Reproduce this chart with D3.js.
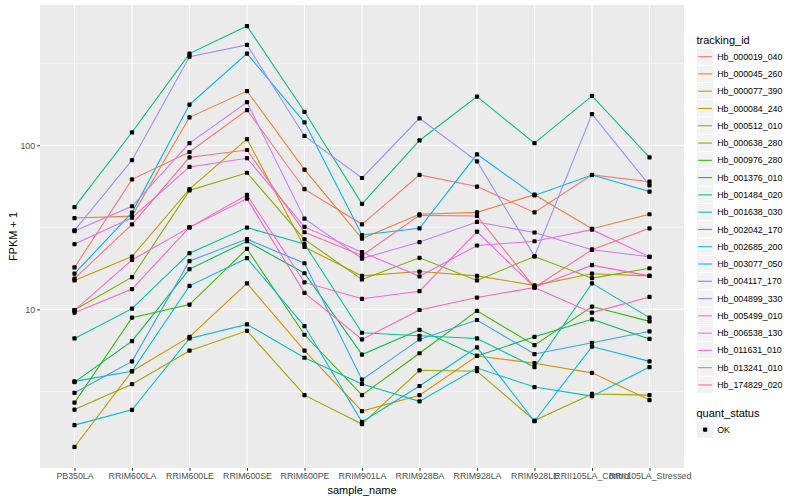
<!DOCTYPE html>
<html>
<head>
<meta charset="utf-8">
<script src="https://cdn.jsdelivr.net/npm/d3@7"></script>
<style>
  html, body { margin: 0; padding: 0; background: #ffffff; }
  svg { display: block; font-family: "Liberation Sans", Arial, Helvetica, sans-serif; }
</style>
</head>
<body>
<svg id="chart" width="800" height="500"></svg>
<script>
// ---- data (FPKM + 1) ----
const samples = ["PB350LA","RRIM600LA","RRIM600LE","RRIM600SE","RRIM600PE","RRIM901LA",
                 "RRIM928BA","RRIM928LA","RRIM928LE","RRII105LA_Control","RRII105LA_Stressed"];

const Hb_000019_040 = [18, 62, 91, 164, 54, 33, 66, 56, 39, 66, 60];
const Hb_000045_260 = [36, 37, 148, 214, 71, 27, 38, 39, 50, 31, 38];
const Hb_000077_390 = [1.45, 4.2, 6.8, 14.4, 5.6, 2.4, 3.0, 5.2, 4.7, 4.1, 2.8];
const Hb_000084_240 = [15, 21, 54, 109, 24, 16, 17, 16, 14, 16.5, 16];
const Hb_000512_010 = [2.45, 3.5, 5.6, 7.4, 3.0, 2.0, 4.25, 4.2, 2.1, 3.05, 3.0];
const Hb_000638_280 = [9.9, 15.7, 53, 68, 26.7, 15.2, 20.6, 15, 21, 15.5, 17.8];
const Hb_000976_280 = [2.7, 8.9, 10.7, 23.4, 7.0, 3.0, 5.4, 9.8, 6.05, 10.4, 8.45];
const Hb_001376_010 = [3.6, 6.4, 17.6, 26, 16.6, 5.3, 7.5, 5.2, 6.8, 8.7, 6.6];
const Hb_001484_020 = [42, 120, 362, 533, 160, 44, 107, 198, 103, 200, 84.5];
const Hb_001638_030 = [6.65, 10.1, 22, 31.5, 25, 7.2, 6.9, 6.65, 4.45, 14.4, 8.9];
const Hb_002042_170 = [1.97, 2.44, 6.65, 8.1, 5.07, 3.51, 2.75, 4.39, 3.36, 2.96, 4.45];
const Hb_002685_200 = [3.64, 4.19, 13.9, 20.5, 7.91, 2.06, 3.41, 5.87, 2.08, 5.93, 4.82];
const Hb_003077_050 = [16.5, 38.9, 177, 362, 138, 28.4, 31.2, 88.1, 49.5, 65.9, 52.2];
const Hb_004117_170 = [3.10, 4.82, 19.7, 26.8, 19.1, 3.73, 6.56, 8.61, 5.34, 6.26, 7.35];
const Hb_004899_330 = [30.3, 81.1, 347, 409, 114, 63.2, 146, 79.8, 21.1, 155, 57.0];
const Hb_005499_010 = [30.0, 42.5, 103, 183, 35.7, 20.4, 25.7, 34.1, 29.4, 23.1, 20.9];
const Hb_006538_130 = [25.0, 36.2, 73.8, 83.4, 31.8, 22.3, 15.9, 24.5, 26.0, 30.6, 20.9];
const Hb_011631_010 = [9.86, 20.0, 31.6, 49.8, 14.6, 11.6, 12.9, 29.8, 13.6, 18.6, 16.0];
const Hb_013241_010 = [9.55, 13.3, 31.6, 47.3, 12.6, 6.56, 9.91, 11.8, 13.6, 9.55, 11.9];
const Hb_174829_020 = [15.4, 33.0, 84.5, 93.6, 29.5, 21.3, 37.4, 37.1, 13.6, 23.1, 31.2];

const trackingIds = ["Hb_000019_040","Hb_000045_260","Hb_000077_390","Hb_000084_240","Hb_000512_010",
  "Hb_000638_280","Hb_000976_280","Hb_001376_010","Hb_001484_020","Hb_001638_030",
  "Hb_002042_170","Hb_002685_200","Hb_003077_050","Hb_004117_170","Hb_004899_330",
  "Hb_005499_010","Hb_006538_130","Hb_011631_010","Hb_013241_010","Hb_174829_020"];
const seriesValues = [Hb_000019_040,Hb_000045_260,Hb_000077_390,Hb_000084_240,Hb_000512_010,
  Hb_000638_280,Hb_000976_280,Hb_001376_010,Hb_001484_020,Hb_001638_030,
  Hb_002042_170,Hb_002685_200,Hb_003077_050,Hb_004117_170,Hb_004899_330,
  Hb_005499_010,Hb_006538_130,Hb_011631_010,Hb_013241_010,Hb_174829_020];
const quantStatus = ["OK"];
const yBreaks = [10, 100];
const yMinor = [Math.pow(10,0.5), Math.pow(10,1.5), Math.pow(10,2.5)];

// ggplot hue palette (20)
const palette = ["#F8766D","#EA8331","#D89000","#C09B00","#A3A500","#7CAE00","#39B600","#00BB4E",
  "#00BF7D","#00C1A3","#00BFC4","#00BAE0","#00B0F6","#35A2FF","#9590FF","#C77CFF","#E76BF3",
  "#FA62DB","#FF62BC","#FF6C91"];

// ---- layout ----
const svg = d3.select("#chart");
const P = {left: 40, right: 684, top: 5, bottom: 468};

const series = trackingIds.map((id, i) => ({
  id, color: palette[i],
  values: samples.map((s, j) => ({sample: s, value: seriesValues[i][j]}))
}));

const allVals = seriesValues.flat();
const lmin = Math.log10(d3.min(allVals)), lmax = Math.log10(d3.max(allVals));
const ex = (lmax - lmin) * 0.05;
const y = d3.scaleLog().domain([Math.pow(10, lmin - ex), Math.pow(10, lmax + ex)]).range([P.bottom, P.top]);
const x = d3.scalePoint().domain(samples).range([P.left, P.right]).padding(0.6);

// panel
svg.append("rect").attr("x", P.left).attr("y", P.top)
  .attr("width", P.right - P.left).attr("height", P.bottom - P.top).attr("fill", "#EBEBEB");

const grid = svg.append("g");
grid.selectAll(".ymin").data(yMinor).enter().append("line")
  .attr("x1", P.left).attr("x2", P.right).attr("y1", d => y(d)).attr("y2", d => y(d))
  .attr("stroke", "#fff").attr("stroke-width", 0.55);
grid.selectAll(".ymaj").data(yBreaks).enter().append("line")
  .attr("x1", P.left).attr("x2", P.right).attr("y1", d => y(d)).attr("y2", d => y(d))
  .attr("stroke", "#fff").attr("stroke-width", 1.1);
grid.selectAll(".xmaj").data(samples).enter().append("line")
  .attr("x1", d => x(d)).attr("x2", d => x(d)).attr("y1", P.top).attr("y2", P.bottom)
  .attr("stroke", "#fff").attr("stroke-width", 1.1);

// lines
const line = d3.line().x(d => x(d.sample)).y(d => y(d.value));
svg.append("g").selectAll("path").data(series).enter().append("path")
  .attr("d", d => line(d.values)).attr("fill", "none")
  .attr("stroke", d => d.color).attr("stroke-width", 1.07);

// points
const pts = series.flatMap(s => s.values);
svg.append("g").selectAll("rect").data(pts).enter().append("rect")
  .attr("x", d => x(d.sample) - 2.1).attr("y", d => y(d.value) - 2.1)
  .attr("width", 4.2).attr("height", 4.2).attr("rx", 0.9).attr("fill", "#000");

// axes
const xAxis = d3.axisBottom(x).tickSize(2.75).tickPadding(2.5);
const gx = svg.append("g").attr("transform", `translate(0,${P.bottom})`).call(xAxis);
gx.select(".domain").remove();
gx.selectAll("line").attr("stroke", "#333333").attr("stroke-width", 1.07);
gx.selectAll("text").attr("fill", "#4D4D4D").style("font-size", "8.8px").attr("dy", "0.71em");

const yAxis = d3.axisLeft(y).tickValues(yBreaks).tickFormat(d3.format("d")).tickSize(2.75).tickPadding(2.2);
const gy = svg.append("g").attr("transform", `translate(${P.left},0)`).call(yAxis);
gy.select(".domain").remove();
gy.selectAll("line").attr("stroke", "#333333").attr("stroke-width", 1.07);
gy.selectAll("text").attr("fill", "#4D4D4D").style("font-size", "8.8px");

svg.append("text").attr("x", (P.left + P.right) / 2).attr("y", 494)
  .attr("text-anchor", "middle").style("font-size", "11px").attr("fill", "#000").text("sample_name");
svg.append("text").attr("transform", `translate(17,${(P.top + P.bottom) / 2}) rotate(-90)`)
  .attr("text-anchor", "middle").style("font-size", "11px").attr("fill", "#000").text("FPKM + 1");

// legend: tracking_id
const L = {x: 696.5, top: 48, key: 17.28};
svg.append("text").attr("x", L.x).attr("y", 44).style("font-size", "11px").attr("fill", "#000").text("tracking_id");
const lg = svg.append("g").selectAll("g").data(series).enter().append("g")
  .attr("transform", (d, i) => `translate(${L.x},${L.top + i * L.key})`);
lg.append("rect").attr("width", L.key).attr("height", L.key).attr("fill", "#F2F2F2")
  .attr("stroke", "#fff").attr("stroke-width", 1);
lg.append("line").attr("x1", 1.7).attr("x2", L.key - 1.7).attr("y1", L.key / 2).attr("y2", L.key / 2)
  .attr("stroke", d => d.color).attr("stroke-width", 1.07);
lg.append("text").attr("x", L.key + 3.5).attr("y", L.key / 2).attr("dy", "0.35em")
  .style("font-size", "8.8px").attr("fill", "#000").text(d => d.id);

// legend: quant_status
const q0 = 417;
svg.append("text").attr("x", L.x).attr("y", q0).style("font-size", "11px").attr("fill", "#000").text("quant_status");
const qg = svg.append("g").selectAll("g").data(quantStatus).enter().append("g")
  .attr("transform", (d, i) => `translate(${L.x},${q0 + 4 + i * L.key})`);
qg.append("rect").attr("width", L.key).attr("height", L.key).attr("fill", "#F2F2F2")
  .attr("stroke", "#fff").attr("stroke-width", 1);
qg.append("rect").attr("x", L.key / 2 - 2.1).attr("y", L.key / 2 - 2.1).attr("width", 4.2).attr("height", 4.2)
  .attr("rx", 0.9).attr("fill", "#000");
qg.append("text").attr("x", L.key + 3.5).attr("y", L.key / 2).attr("dy", "0.35em")
  .style("font-size", "8.8px").attr("fill", "#000").text(d => d);
</script>
</body>
</html>
